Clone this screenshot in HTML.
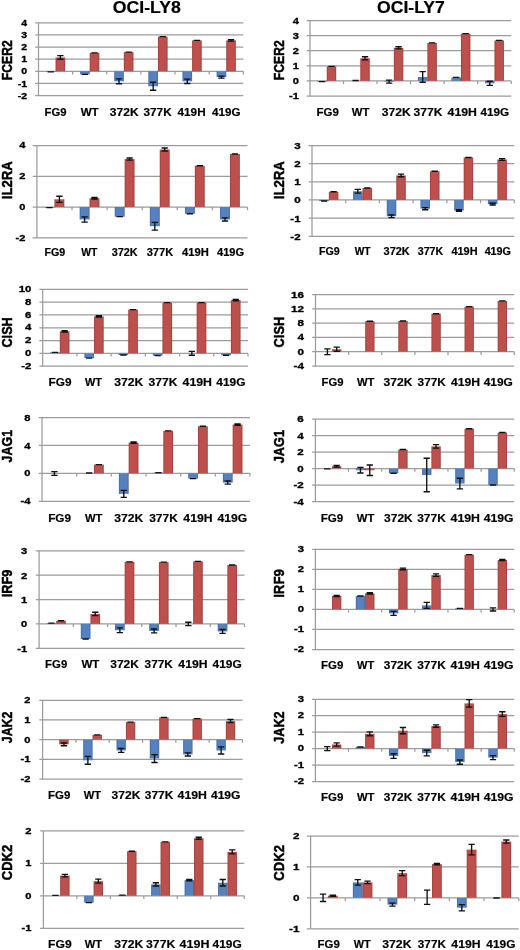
<!DOCTYPE html>
<html lang="en">
<head>
<meta charset="utf-8">
<title>OCI-LY8 / OCI-LY7 gene expression</title>
<style>
html,body{margin:0;padding:0;background:#fff;}
body{width:520px;height:950px;overflow:hidden;}
svg{display:block;filter:blur(0.35px);}
text{font-family:"Liberation Sans", sans-serif;font-weight:bold;fill:#000;stroke:#000;stroke-width:0.2px;stroke-linejoin:round;}
.yl{stroke-width:0.5px;}
.tk{stroke-width:0.32px;}
.g{stroke:#9c9c9c;stroke-width:1.25;fill:none;}
.e{stroke:#111;stroke-width:1.35;fill:none;}
.b{fill:url(#gb);}
.r{fill:url(#gr);}
</style>
</head>
<body>
<svg width="520" height="950" viewBox="0 0 520 950">
<defs>
<linearGradient id="gb" x1="0" x2="1" y1="0" y2="0"><stop offset="0" stop-color="#3f66a3"/><stop offset="0.16" stop-color="#5581bf"/><stop offset="0.84" stop-color="#5581bf"/><stop offset="1" stop-color="#3f66a3"/></linearGradient>
<linearGradient id="gr" x1="0" x2="1" y1="0" y2="0"><stop offset="0" stop-color="#983d39"/><stop offset="0.16" stop-color="#bd504d"/><stop offset="0.84" stop-color="#bd504d"/><stop offset="1" stop-color="#983d39"/></linearGradient>
</defs>
<rect x="0" y="0" width="520" height="950" fill="#fff"/>
<text x="112.8" y="13.15" font-size="15.7" textLength="68" lengthAdjust="spacingAndGlyphs">OCI-LY8</text>
<text x="377.1" y="13.15" font-size="15.7" textLength="67.7" lengthAdjust="spacingAndGlyphs">OCI-LY7</text>
<g>
<path class="g" d="M35.2 22.8H243.3M35.2 34.92H243.3M35.2 47.03H243.3M35.2 59.15H243.3M35.2 71.27H243.3M35.2 83.38H243.3M35.2 95.5H243.3M38.5 22.8V95.5M72.63 71.27V74.47M106.77 71.27V74.47M140.9 71.27V74.47M175.03 71.27V74.47M209.17 71.27V74.47M243.3 71.27V74.47"/>
<rect class="b" x="45.95" y="71.27" width="9.62" height="0.61"/>
<rect class="r" x="55.57" y="57.45" width="9.62" height="13.81"/>
<rect class="b" x="80.08" y="71.27" width="9.62" height="3.03"/>
<rect class="r" x="89.7" y="52.85" width="9.62" height="18.42"/>
<rect class="b" x="114.22" y="71.27" width="9.62" height="10.06"/>
<rect class="r" x="123.83" y="52.12" width="9.62" height="19.14"/>
<rect class="b" x="148.35" y="71.27" width="9.62" height="15.02"/>
<rect class="r" x="157.97" y="36.61" width="9.62" height="34.65"/>
<rect class="b" x="182.48" y="71.27" width="9.62" height="10.06"/>
<rect class="r" x="192.1" y="40.37" width="9.62" height="30.9"/>
<rect class="b" x="216.62" y="71.27" width="9.62" height="5.82"/>
<rect class="r" x="226.23" y="40.37" width="9.62" height="30.9"/>
<path class="e" d="M47.61 71.87H53.91M57.22 55.64H63.52M57.22 59.27H63.52M60.37 55.64V59.27M81.74 74.3H88.04M91.36 52.85H97.66M115.88 78.9H122.18M115.88 83.75H122.18M119.03 78.9V83.75M125.49 52.12H131.79M150.01 82.29H156.31M150.01 90.29H156.31M153.16 82.29V90.29M159.62 36.61H165.92M184.14 79.14H190.44M184.14 83.5H190.44M187.29 79.14V83.5M193.76 40.37H200.06M218.28 76.11H224.58M218.28 78.05H224.58M221.43 76.11V78.05M227.89 39.64H234.19M227.89 41.1H234.19M231.04 39.64V41.1"/>
<text class="tk" x="21.16" y="25.99" font-size="8.9" textLength="5.84" lengthAdjust="spacingAndGlyphs">4</text>
<text class="tk" x="21.16" y="38.1" font-size="8.9" textLength="5.84" lengthAdjust="spacingAndGlyphs">3</text>
<text class="tk" x="21.16" y="50.22" font-size="8.9" textLength="5.84" lengthAdjust="spacingAndGlyphs">2</text>
<text class="tk" x="21.16" y="62.34" font-size="8.9" textLength="5.84" lengthAdjust="spacingAndGlyphs">1</text>
<text class="tk" x="21.16" y="74.45" font-size="8.9" textLength="5.84" lengthAdjust="spacingAndGlyphs">0</text>
<text class="tk" x="17.66" y="86.57" font-size="8.9" textLength="9.34" lengthAdjust="spacingAndGlyphs">-1</text>
<text class="tk" x="17.66" y="98.69" font-size="8.9" textLength="9.34" lengthAdjust="spacingAndGlyphs">-2</text>
<text x="44.62" y="115.8" font-size="11.4" textLength="21.99" lengthAdjust="spacingAndGlyphs">FG9</text>
<text x="80.67" y="115.8" font-size="11.4" textLength="18.04" lengthAdjust="spacingAndGlyphs">WT</text>
<text x="109.81" y="115.8" font-size="11.4" textLength="28.82" lengthAdjust="spacingAndGlyphs">372K</text>
<text x="143.53" y="115.8" font-size="11.4" textLength="28.13" lengthAdjust="spacingAndGlyphs">377K</text>
<text x="177.6" y="115.8" font-size="11.4" textLength="28" lengthAdjust="spacingAndGlyphs">419H</text>
<text x="212" y="115.8" font-size="11.4" textLength="28.43" lengthAdjust="spacingAndGlyphs">419G</text>
<text class="yl" transform="translate(12.2 80.16) rotate(-90)" font-size="15.4" textLength="39.83" lengthAdjust="spacingAndGlyphs">FCER2</text>
</g>
<g>
<path class="g" d="M32.7 145.5H247.5M32.7 176.25H247.5M32.7 207H247.5M32.7 237.75H247.5M36.9 145.5V237.75M72 207V210.2M107.1 207V210.2M142.2 207V210.2M177.3 207V210.2M212.4 207V210.2M247.5 207V210.2"/>
<rect class="b" x="44.56" y="207" width="9.89" height="0.62"/>
<rect class="r" x="54.45" y="199.31" width="9.89" height="7.69"/>
<rect class="b" x="79.66" y="207" width="9.89" height="12.45"/>
<rect class="r" x="89.55" y="198.24" width="9.89" height="8.76"/>
<rect class="b" x="114.76" y="207" width="9.89" height="9.69"/>
<rect class="r" x="124.65" y="159.03" width="9.89" height="47.97"/>
<rect class="b" x="149.86" y="207" width="9.89" height="19.22"/>
<rect class="r" x="159.75" y="149.5" width="9.89" height="57.5"/>
<rect class="b" x="184.96" y="207" width="9.89" height="6.76"/>
<rect class="r" x="194.85" y="165.79" width="9.89" height="41.21"/>
<rect class="b" x="220.06" y="207" width="9.89" height="12.45"/>
<rect class="r" x="229.95" y="153.96" width="9.89" height="53.04"/>
<path class="e" d="M46.36 207.62H52.66M56.24 196.24H62.54M56.24 202.39H62.54M59.39 196.24V202.39M81.46 216.84H87.76M81.46 222.07H87.76M84.61 216.84V222.07M91.34 197.47H97.64M91.34 199H97.64M94.49 197.47V199M116.56 216.69H122.86M126.44 157.95H132.74M126.44 160.11H132.74M129.59 157.95V160.11M151.66 222.38H157.96M151.66 230.06H157.96M154.81 222.38V230.06M161.54 147.96H167.84M161.54 151.03H167.84M164.69 147.96V151.03M186.76 213.76H193.06M196.64 165.79H202.94M221.86 217.92H228.16M221.86 220.99H228.16M225.01 217.92V220.99M231.74 153.96H238.04"/>
<text class="tk" x="19.23" y="148.47" font-size="9.4" textLength="6.17" lengthAdjust="spacingAndGlyphs">4</text>
<text class="tk" x="19.23" y="179.22" font-size="9.4" textLength="6.17" lengthAdjust="spacingAndGlyphs">2</text>
<text class="tk" x="19.23" y="209.97" font-size="9.4" textLength="6.17" lengthAdjust="spacingAndGlyphs">0</text>
<text class="tk" x="15.54" y="240.72" font-size="9.4" textLength="9.86" lengthAdjust="spacingAndGlyphs">-2</text>
<text x="44.52" y="256" font-size="10.8" textLength="20.71" lengthAdjust="spacingAndGlyphs">FG9</text>
<text x="81.28" y="256" font-size="10.8" textLength="16.16" lengthAdjust="spacingAndGlyphs">WT</text>
<text x="111.68" y="256" font-size="10.8" textLength="26.01" lengthAdjust="spacingAndGlyphs">372K</text>
<text x="146.67" y="256" font-size="10.8" textLength="26.63" lengthAdjust="spacingAndGlyphs">377K</text>
<text x="182" y="256" font-size="10.8" textLength="26.72" lengthAdjust="spacingAndGlyphs">419H</text>
<text x="217" y="256" font-size="10.8" textLength="27.17" lengthAdjust="spacingAndGlyphs">419G</text>
<text class="yl" transform="translate(12.2 199.19) rotate(-90)" font-size="15.4" textLength="38" lengthAdjust="spacingAndGlyphs">IL2RA</text>
</g>
<g>
<path class="g" d="M39.4 289.4H248M39.4 302.18H248M39.4 314.97H248M39.4 327.75H248M39.4 340.53H248M39.4 353.32H248M39.4 366.1H248M42.7 289.4V366.1M76.92 353.32V356.52M111.13 353.32V356.52M145.35 353.32V356.52M179.57 353.32V356.52M213.78 353.32V356.52M248 353.32V356.52"/>
<rect class="b" x="50.17" y="352.36" width="9.64" height="0.96"/>
<rect class="r" x="59.81" y="331.33" width="9.64" height="21.99"/>
<rect class="b" x="84.39" y="353.32" width="9.64" height="4.73"/>
<rect class="r" x="94.03" y="316.37" width="9.64" height="36.94"/>
<rect class="b" x="118.6" y="353.32" width="9.64" height="1.73"/>
<rect class="r" x="128.24" y="309.6" width="9.64" height="43.72"/>
<rect class="b" x="152.82" y="353.32" width="9.64" height="2.24"/>
<rect class="r" x="162.46" y="302.63" width="9.64" height="50.69"/>
<rect class="r" x="196.68" y="302.63" width="9.64" height="50.69"/>
<rect class="b" x="221.25" y="353.32" width="9.64" height="1.92"/>
<rect class="r" x="230.89" y="300.14" width="9.64" height="53.18"/>
<path class="e" d="M51.84 352.36H58.14M61.48 330.69H67.78M61.48 331.97H67.78M64.63 330.69V331.97M86.06 358.05H92.36M95.69 315.73H101.99M95.69 317.01H101.99M98.84 315.73V317.01M120.27 355.04H126.57M129.91 309.6H136.21M154.49 355.55H160.79M164.13 302.63H170.43M188.71 351.4H195.01M188.71 355.23H195.01M191.86 351.4V355.23M198.34 302.63H204.64M222.92 355.23H229.22M232.56 299.5H238.86M232.56 300.78H238.86M235.71 299.5V300.78"/>
<text class="tk" x="18.67" y="291.97" font-size="9.7" textLength="12.73" lengthAdjust="spacingAndGlyphs">10</text>
<text class="tk" x="25.04" y="304.76" font-size="9.7" textLength="6.36" lengthAdjust="spacingAndGlyphs">8</text>
<text class="tk" x="25.04" y="317.54" font-size="9.7" textLength="6.36" lengthAdjust="spacingAndGlyphs">6</text>
<text class="tk" x="25.04" y="330.32" font-size="9.7" textLength="6.36" lengthAdjust="spacingAndGlyphs">4</text>
<text class="tk" x="25.04" y="343.11" font-size="9.7" textLength="6.36" lengthAdjust="spacingAndGlyphs">2</text>
<text class="tk" x="25.04" y="355.89" font-size="9.7" textLength="6.36" lengthAdjust="spacingAndGlyphs">0</text>
<text class="tk" x="21.22" y="368.67" font-size="9.7" textLength="10.18" lengthAdjust="spacingAndGlyphs">-2</text>
<text x="48.55" y="385.8" font-size="11.8" textLength="22.93" lengthAdjust="spacingAndGlyphs">FG9</text>
<text x="85" y="385.8" font-size="11.8" textLength="17" lengthAdjust="spacingAndGlyphs">WT</text>
<text x="114.22" y="385.8" font-size="11.8" textLength="29.05" lengthAdjust="spacingAndGlyphs">372K</text>
<text x="148.5" y="385.8" font-size="11.8" textLength="28.85" lengthAdjust="spacingAndGlyphs">377K</text>
<text x="182.58" y="385.8" font-size="11.8" textLength="29.38" lengthAdjust="spacingAndGlyphs">419H</text>
<text x="216.37" y="385.8" font-size="11.8" textLength="29.09" lengthAdjust="spacingAndGlyphs">419G</text>
<text class="yl" transform="translate(12.2 347.51) rotate(-90)" font-size="15.4" textLength="30.22" lengthAdjust="spacingAndGlyphs">CISH</text>
</g>
<g>
<path class="g" d="M38.7 417.5H250M38.7 445.42H250M38.7 473.33H250M38.7 501.25H250M42 417.5V501.25M76.67 473.33V476.53M111.33 473.33V476.53M146 473.33V476.53M180.67 473.33V476.53M215.33 473.33V476.53M250 473.33V476.53"/>
<rect class="r" x="94" y="464.61" width="9.77" height="8.72"/>
<rect class="b" x="118.9" y="473.33" width="9.77" height="20.52"/>
<rect class="r" x="128.67" y="442.56" width="9.77" height="30.78"/>
<rect class="b" x="153.57" y="472.64" width="9.77" height="0.7"/>
<rect class="r" x="163.33" y="430.83" width="9.77" height="42.5"/>
<rect class="b" x="188.23" y="473.33" width="9.77" height="5.23"/>
<rect class="r" x="198" y="426.29" width="9.77" height="47.04"/>
<rect class="b" x="222.9" y="473.33" width="9.77" height="9.21"/>
<rect class="r" x="232.67" y="424.55" width="9.77" height="48.78"/>
<path class="e" d="M51.3 471.66H57.6M51.3 475.43H57.6M54.45 471.66V475.43M85.97 472.98H92.27M95.73 464.61H102.03M120.63 490.36H126.93M120.63 497.34H126.93M123.78 490.36V497.34M130.4 441.86H136.7M130.4 443.25H136.7M133.55 441.86V443.25M155.3 472.64H161.6M165.07 430.83H171.37M189.97 478.57H196.27M199.73 426.29H206.03M224.63 481.01H230.93M224.63 484.08H230.93M227.78 481.01V484.08M234.4 423.85H240.7M234.4 425.25H240.7M237.55 423.85V425.25"/>
<text class="tk" x="24.27" y="420.6" font-size="9.5" textLength="6.23" lengthAdjust="spacingAndGlyphs">8</text>
<text class="tk" x="24.27" y="448.52" font-size="9.5" textLength="6.23" lengthAdjust="spacingAndGlyphs">4</text>
<text class="tk" x="24.27" y="476.43" font-size="9.5" textLength="6.23" lengthAdjust="spacingAndGlyphs">0</text>
<text class="tk" x="20.53" y="504.35" font-size="9.5" textLength="9.97" lengthAdjust="spacingAndGlyphs">-4</text>
<text x="48.13" y="521.5" font-size="11.8" textLength="22.91" lengthAdjust="spacingAndGlyphs">FG9</text>
<text x="85" y="521.5" font-size="11.8" textLength="17.47" lengthAdjust="spacingAndGlyphs">WT</text>
<text x="114.22" y="521.5" font-size="11.8" textLength="29.05" lengthAdjust="spacingAndGlyphs">372K</text>
<text x="149.23" y="521.5" font-size="11.8" textLength="28.61" lengthAdjust="spacingAndGlyphs">377K</text>
<text x="183.37" y="521.5" font-size="11.8" textLength="29.14" lengthAdjust="spacingAndGlyphs">419H</text>
<text x="217.59" y="521.5" font-size="11.8" textLength="29.71" lengthAdjust="spacingAndGlyphs">419G</text>
<text class="yl" transform="translate(12.2 462.5) rotate(-90)" font-size="15.4" textLength="32.59" lengthAdjust="spacingAndGlyphs">JAG1</text>
</g>
<g>
<path class="g" d="M35.8 550.9H244.5M35.8 575.24H244.5M35.8 599.58H244.5M35.8 623.91H244.5M35.8 648.25H244.5M39.1 550.9V648.25M73.33 623.91V627.11M107.57 623.91V627.11M141.8 623.91V627.11M176.03 623.91V627.11M210.27 623.91V627.11M244.5 623.91V627.11"/>
<rect class="b" x="46.57" y="623.18" width="9.64" height="0.73"/>
<rect class="r" x="56.22" y="620.75" width="9.64" height="3.16"/>
<rect class="b" x="80.81" y="623.91" width="9.64" height="15.09"/>
<rect class="r" x="90.45" y="613.93" width="9.64" height="9.98"/>
<rect class="b" x="115.04" y="623.91" width="9.64" height="6.33"/>
<rect class="r" x="124.68" y="561.85" width="9.64" height="62.06"/>
<rect class="b" x="149.27" y="623.91" width="9.64" height="7.06"/>
<rect class="r" x="158.92" y="562.1" width="9.64" height="61.82"/>
<rect class="r" x="193.15" y="561.37" width="9.64" height="62.55"/>
<rect class="b" x="217.74" y="623.91" width="9.64" height="7.54"/>
<rect class="r" x="227.38" y="565.02" width="9.64" height="58.9"/>
<path class="e" d="M48.25 623.18H54.55M57.89 620.75H64.19M82.48 639H88.78M92.12 612.23H98.42M92.12 615.64H98.42M95.27 612.23V615.64M116.71 627.81H123.01M116.71 632.67H123.01M119.86 627.81V632.67M126.35 561.85H132.65M150.95 629.02H157.25M150.95 632.92H157.25M154.1 629.02V632.92M160.59 562.1H166.89M185.18 622.21H191.48M185.18 625.62H191.48M188.33 622.21V625.62M194.82 561.37H201.12M219.41 629.51H225.71M219.41 633.4H225.71M222.56 629.51V633.4M229.05 565.02H235.35"/>
<text class="tk" x="20.97" y="554.3" font-size="9.5" textLength="6.23" lengthAdjust="spacingAndGlyphs">3</text>
<text class="tk" x="20.97" y="578.64" font-size="9.5" textLength="6.23" lengthAdjust="spacingAndGlyphs">2</text>
<text class="tk" x="20.97" y="602.98" font-size="9.5" textLength="6.23" lengthAdjust="spacingAndGlyphs">1</text>
<text class="tk" x="20.97" y="627.31" font-size="9.5" textLength="6.23" lengthAdjust="spacingAndGlyphs">0</text>
<text class="tk" x="17.23" y="651.65" font-size="9.5" textLength="9.97" lengthAdjust="spacingAndGlyphs">-1</text>
<text x="45.11" y="667.8" font-size="11.6" textLength="22.15" lengthAdjust="spacingAndGlyphs">FG9</text>
<text x="81.45" y="667.8" font-size="11.6" textLength="18.02" lengthAdjust="spacingAndGlyphs">WT</text>
<text x="110.22" y="667.8" font-size="11.6" textLength="28.78" lengthAdjust="spacingAndGlyphs">372K</text>
<text x="144.59" y="667.8" font-size="11.6" textLength="28.31" lengthAdjust="spacingAndGlyphs">377K</text>
<text x="178.36" y="667.8" font-size="11.6" textLength="29.13" lengthAdjust="spacingAndGlyphs">419H</text>
<text x="212.59" y="667.8" font-size="11.6" textLength="29.19" lengthAdjust="spacingAndGlyphs">419G</text>
<text class="yl" transform="translate(12.2 597.37) rotate(-90)" font-size="15.4" textLength="27.81" lengthAdjust="spacingAndGlyphs">IRF9</text>
</g>
<g>
<path class="g" d="M39.3 700.25H242.5M39.3 719.94H242.5M39.3 739.62H242.5M39.3 759.31H242.5M39.3 779H242.5M42.6 700.25V779M75.92 739.62V742.83M109.23 739.62V742.83M142.55 739.62V742.83M175.87 739.62V742.83M209.18 739.62V742.83M242.5 739.62V742.83"/>
<rect class="r" x="59.26" y="739.62" width="9.38" height="4.73"/>
<rect class="b" x="83.19" y="739.62" width="9.38" height="20.67"/>
<rect class="r" x="92.58" y="734.9" width="9.38" height="4.73"/>
<rect class="b" x="116.51" y="739.62" width="9.38" height="10.83"/>
<rect class="r" x="125.89" y="722.1" width="9.38" height="17.52"/>
<rect class="b" x="149.82" y="739.62" width="9.38" height="18.9"/>
<rect class="r" x="159.21" y="717.38" width="9.38" height="22.25"/>
<rect class="b" x="183.14" y="739.62" width="9.38" height="14.77"/>
<rect class="r" x="192.53" y="718.56" width="9.38" height="21.07"/>
<rect class="b" x="216.46" y="739.62" width="9.38" height="10.83"/>
<rect class="r" x="225.84" y="721.12" width="9.38" height="18.51"/>
<path class="e" d="M60.8 742.97H67.1M60.8 745.73H67.1M63.95 742.97V745.73M84.73 756.36H91.03M84.73 764.23H91.03M87.88 756.36V764.23M94.12 734.9H100.42M118.05 748.48H124.35M118.05 752.42H124.35M121.2 748.48V752.42M127.43 722.1H133.73M151.37 754.59H157.67M151.37 762.46H157.67M154.52 754.59V762.46M160.75 717.38H167.05M184.68 752.82H190.98M184.68 755.97H190.98M187.83 752.82V755.97M194.07 718.56H200.37M218 746.91H224.3M218 754H224.3M221.15 746.91V754M227.38 719.54H233.68M227.38 722.69H233.68M230.53 719.54V722.69"/>
<text class="tk" x="24.37" y="703.25" font-size="9.5" textLength="6.23" lengthAdjust="spacingAndGlyphs">2</text>
<text class="tk" x="24.37" y="722.94" font-size="9.5" textLength="6.23" lengthAdjust="spacingAndGlyphs">1</text>
<text class="tk" x="24.37" y="742.63" font-size="9.5" textLength="6.23" lengthAdjust="spacingAndGlyphs">0</text>
<text class="tk" x="20.63" y="762.31" font-size="9.5" textLength="9.97" lengthAdjust="spacingAndGlyphs">-1</text>
<text class="tk" x="20.63" y="782" font-size="9.5" textLength="9.97" lengthAdjust="spacingAndGlyphs">-2</text>
<text x="48.05" y="799" font-size="11.6" textLength="22.26" lengthAdjust="spacingAndGlyphs">FG9</text>
<text x="83.75" y="799" font-size="11.6" textLength="17.33" lengthAdjust="spacingAndGlyphs">WT</text>
<text x="111.5" y="799" font-size="11.6" textLength="28.88" lengthAdjust="spacingAndGlyphs">372K</text>
<text x="144.82" y="799" font-size="11.6" textLength="28.41" lengthAdjust="spacingAndGlyphs">377K</text>
<text x="177.58" y="799" font-size="11.6" textLength="29.32" lengthAdjust="spacingAndGlyphs">419H</text>
<text x="210.93" y="799" font-size="11.6" textLength="29.6" lengthAdjust="spacingAndGlyphs">419G</text>
<text class="yl" transform="translate(12.2 743.23) rotate(-90)" font-size="15.4" textLength="31.62" lengthAdjust="spacingAndGlyphs">JAK2</text>
</g>
<g>
<path class="g" d="M40.1 830.75H244.25M40.1 863.25H244.25M40.1 895.75H244.25M40.1 928.25H244.25M43.4 830.75V928.25M76.88 895.75V898.95M110.35 895.75V898.95M143.83 895.75V898.95M177.3 895.75V898.95M210.78 895.75V898.95M244.25 895.75V898.95"/>
<rect class="r" x="60.14" y="875.6" width="9.43" height="20.15"/>
<rect class="b" x="84.18" y="895.75" width="9.43" height="6.83"/>
<rect class="r" x="93.61" y="881.12" width="9.43" height="14.62"/>
<rect class="b" x="117.66" y="895.1" width="9.43" height="0.65"/>
<rect class="r" x="127.09" y="851.23" width="9.43" height="44.52"/>
<rect class="b" x="151.13" y="884.38" width="9.43" height="11.38"/>
<rect class="r" x="160.56" y="841.8" width="9.43" height="53.95"/>
<rect class="b" x="184.61" y="880.15" width="9.43" height="15.6"/>
<rect class="r" x="194.04" y="838.23" width="9.43" height="57.52"/>
<rect class="b" x="218.08" y="882.75" width="9.43" height="13"/>
<rect class="r" x="227.51" y="851.88" width="9.43" height="43.88"/>
<path class="e" d="M52.27 895.42H58.57M61.7 874.3H68M61.7 876.9H68M64.85 874.3V876.9M85.75 902.58H92.05M95.18 879.17H101.48M95.18 883.08H101.48M98.33 879.17V883.08M119.22 895.1H125.52M128.65 851.23H134.95M152.7 882.75H159M152.7 886H159M155.85 882.75V886M162.13 841.8H168.43M186.17 879.5H192.47M186.17 880.8H192.47M189.32 879.5V880.8M195.6 837.25H201.9M195.6 839.2H201.9M198.75 837.25V839.2M219.65 879.5H225.95M219.65 886H225.95M222.8 879.5V886M229.08 849.92H235.38M229.08 853.83H235.38M232.23 849.92V853.83"/>
<text class="tk" x="25.17" y="833.75" font-size="9.5" textLength="6.23" lengthAdjust="spacingAndGlyphs">2</text>
<text class="tk" x="25.17" y="866.25" font-size="9.5" textLength="6.23" lengthAdjust="spacingAndGlyphs">1</text>
<text class="tk" x="25.17" y="898.75" font-size="9.5" textLength="6.23" lengthAdjust="spacingAndGlyphs">0</text>
<text class="tk" x="21.43" y="931.25" font-size="9.5" textLength="9.97" lengthAdjust="spacingAndGlyphs">-1</text>
<text x="48.11" y="948.3" font-size="11.8" textLength="23.59" lengthAdjust="spacingAndGlyphs">FG9</text>
<text x="84.66" y="948.3" font-size="11.8" textLength="17.34" lengthAdjust="spacingAndGlyphs">WT</text>
<text x="114.22" y="948.3" font-size="11.8" textLength="29.05" lengthAdjust="spacingAndGlyphs">372K</text>
<text x="146.02" y="948.3" font-size="11.8" textLength="29.29" lengthAdjust="spacingAndGlyphs">377K</text>
<text x="179.58" y="948.3" font-size="11.8" textLength="29.84" lengthAdjust="spacingAndGlyphs">419H</text>
<text x="212.59" y="948.3" font-size="11.8" textLength="29.21" lengthAdjust="spacingAndGlyphs">419G</text>
<text class="yl" transform="translate(12.2 880.14) rotate(-90)" font-size="15.4" textLength="35.26" lengthAdjust="spacingAndGlyphs">CDK2</text>
</g>
<g>
<path class="g" d="M306.7 20.5H511.25M306.7 35.6H511.25M306.7 50.7H511.25M306.7 65.8H511.25M306.7 80.9H511.25M306.7 96H511.25M310 20.5V96M343.54 80.9V84.1M377.08 80.9V84.1M410.62 80.9V84.1M444.17 80.9V84.1M477.71 80.9V84.1M511.25 80.9V84.1"/>
<rect class="b" x="317.32" y="80.9" width="9.45" height="0.75"/>
<rect class="r" x="326.77" y="66.4" width="9.45" height="14.5"/>
<rect class="r" x="360.31" y="58.25" width="9.45" height="22.65"/>
<rect class="b" x="384.41" y="80.9" width="9.45" height="0.75"/>
<rect class="r" x="393.85" y="47.83" width="9.45" height="33.07"/>
<rect class="b" x="417.95" y="76.97" width="9.45" height="3.93"/>
<rect class="r" x="427.4" y="42.85" width="9.45" height="38.05"/>
<rect class="b" x="451.49" y="77.43" width="9.45" height="3.47"/>
<rect class="r" x="460.94" y="33.64" width="9.45" height="47.26"/>
<rect class="b" x="485.03" y="80.9" width="9.45" height="2.42"/>
<rect class="r" x="494.48" y="40.43" width="9.45" height="40.47"/>
<path class="e" d="M318.9 81.66H325.2M328.35 66.4H334.65M352.44 80.45H358.74M361.89 56.74H368.19M361.89 59.76H368.19M365.04 56.74V59.76M385.98 80.15H392.28M385.98 83.17H392.28M389.13 80.15V83.17M395.43 46.77H401.73M395.43 48.89H401.73M398.58 46.77V48.89M419.52 71.69H425.82M419.52 82.26H425.82M422.67 71.69V82.26M428.97 42.85H435.27M453.06 77.43H459.36M462.51 33.64H468.81M486.6 81.2H492.9M486.6 85.43H492.9M489.75 81.2V85.43M496.05 40.43H502.35"/>
<text class="tk" x="292.73" y="23.87" font-size="9.4" textLength="6.17" lengthAdjust="spacingAndGlyphs">4</text>
<text class="tk" x="292.73" y="38.97" font-size="9.4" textLength="6.17" lengthAdjust="spacingAndGlyphs">3</text>
<text class="tk" x="292.73" y="54.07" font-size="9.4" textLength="6.17" lengthAdjust="spacingAndGlyphs">2</text>
<text class="tk" x="292.73" y="69.17" font-size="9.4" textLength="6.17" lengthAdjust="spacingAndGlyphs">1</text>
<text class="tk" x="292.73" y="84.27" font-size="9.4" textLength="6.17" lengthAdjust="spacingAndGlyphs">0</text>
<text class="tk" x="289.04" y="99.37" font-size="9.4" textLength="9.86" lengthAdjust="spacingAndGlyphs">-1</text>
<text x="316.61" y="115.8" font-size="11.6" textLength="22.33" lengthAdjust="spacingAndGlyphs">FG9</text>
<text x="351.75" y="115.8" font-size="11.6" textLength="17.54" lengthAdjust="spacingAndGlyphs">WT</text>
<text x="381.82" y="115.8" font-size="11.6" textLength="28.99" lengthAdjust="spacingAndGlyphs">372K</text>
<text x="413.5" y="115.8" font-size="11.6" textLength="28.88" lengthAdjust="spacingAndGlyphs">377K</text>
<text x="447.58" y="115.8" font-size="11.6" textLength="29.32" lengthAdjust="spacingAndGlyphs">419H</text>
<text x="480.59" y="115.8" font-size="11.6" textLength="28.67" lengthAdjust="spacingAndGlyphs">419G</text>
<text class="yl" transform="translate(284.1 80.16) rotate(-90)" font-size="15.4" textLength="39.83" lengthAdjust="spacingAndGlyphs">FCER2</text>
</g>
<g>
<path class="g" d="M308.7 145.5H514.25M308.7 163.65H514.25M308.7 181.8H514.25M308.7 199.95H514.25M308.7 218.1H514.25M308.7 236.25H514.25M312 145.5V236.25M345.71 199.95V203.15M379.42 199.95V203.15M413.12 199.95V203.15M446.83 199.95V203.15M480.54 199.95V203.15M514.25 199.95V203.15"/>
<rect class="b" x="319.36" y="199.95" width="9.5" height="1.09"/>
<rect class="r" x="328.85" y="191.78" width="9.5" height="8.17"/>
<rect class="b" x="353.07" y="191.24" width="9.5" height="8.71"/>
<rect class="r" x="362.56" y="187.97" width="9.5" height="11.98"/>
<rect class="b" x="386.78" y="199.95" width="9.5" height="16.34"/>
<rect class="r" x="396.27" y="175.45" width="9.5" height="24.5"/>
<rect class="b" x="420.48" y="199.95" width="9.5" height="8.71"/>
<rect class="r" x="429.98" y="171.27" width="9.5" height="28.68"/>
<rect class="b" x="454.19" y="199.95" width="9.5" height="10.53"/>
<rect class="r" x="463.69" y="157.48" width="9.5" height="42.47"/>
<rect class="b" x="487.9" y="199.95" width="9.5" height="4.17"/>
<rect class="r" x="497.4" y="159.48" width="9.5" height="40.47"/>
<path class="e" d="M320.96 201.04H327.26M330.45 191.78H336.75M354.66 189.42H360.96M354.66 193.05H360.96M357.81 189.42V193.05M364.16 187.97H370.46M388.37 215.01H394.67M388.37 217.56H394.67M391.52 215.01V217.56M397.87 174.18H404.17M397.87 176.72H404.17M401.02 174.18V176.72M422.08 207.57H428.38M422.08 209.75H428.38M425.23 207.57V209.75M431.58 171.27H437.88M455.79 209.75H462.09M455.79 211.2H462.09M458.94 209.75V211.2M465.29 157.48H471.59M489.5 203.22H495.8M489.5 205.03H495.8M492.65 203.22V205.03M498.99 158.57H505.29M498.99 160.38H505.29M502.14 158.57V160.38"/>
<text class="tk" x="294.17" y="149.01" font-size="9.8" textLength="6.43" lengthAdjust="spacingAndGlyphs">3</text>
<text class="tk" x="294.17" y="167.16" font-size="9.8" textLength="6.43" lengthAdjust="spacingAndGlyphs">2</text>
<text class="tk" x="294.17" y="185.31" font-size="9.8" textLength="6.43" lengthAdjust="spacingAndGlyphs">1</text>
<text class="tk" x="294.17" y="203.46" font-size="9.8" textLength="6.43" lengthAdjust="spacingAndGlyphs">0</text>
<text class="tk" x="290.32" y="221.61" font-size="9.8" textLength="10.28" lengthAdjust="spacingAndGlyphs">-1</text>
<text class="tk" x="290.32" y="239.76" font-size="9.8" textLength="10.28" lengthAdjust="spacingAndGlyphs">-2</text>
<text x="319" y="254.5" font-size="10.8" textLength="20.79" lengthAdjust="spacingAndGlyphs">FG9</text>
<text x="354.71" y="254.5" font-size="10.8" textLength="15.76" lengthAdjust="spacingAndGlyphs">WT</text>
<text x="383.57" y="254.5" font-size="10.8" textLength="26.13" lengthAdjust="spacingAndGlyphs">372K</text>
<text x="417.73" y="254.5" font-size="10.8" textLength="25.45" lengthAdjust="spacingAndGlyphs">377K</text>
<text x="451.43" y="254.5" font-size="10.8" textLength="26.15" lengthAdjust="spacingAndGlyphs">419H</text>
<text x="484.65" y="254.5" font-size="10.8" textLength="26.31" lengthAdjust="spacingAndGlyphs">419G</text>
<text class="yl" transform="translate(284.1 199.19) rotate(-90)" font-size="15.4" textLength="38.07" lengthAdjust="spacingAndGlyphs">IL2RA</text>
</g>
<g>
<path class="g" d="M312.2 294.5H514.25M312.2 308.8H514.25M312.2 323.1H514.25M312.2 337.4H514.25M312.2 351.7H514.25M312.2 366H514.25M315.5 294.5V366M348.62 351.7V354.9M381.75 351.7V354.9M414.88 351.7V354.9M448 351.7V354.9M481.12 351.7V354.9M514.25 351.7V354.9"/>
<rect class="r" x="332.06" y="349.2" width="9.33" height="2.5"/>
<rect class="r" x="365.19" y="321.21" width="9.33" height="30.49"/>
<rect class="r" x="398.31" y="320.95" width="9.33" height="30.75"/>
<rect class="r" x="431.44" y="313.7" width="9.33" height="38"/>
<rect class="r" x="464.56" y="306.69" width="9.33" height="45.01"/>
<rect class="r" x="497.69" y="300.94" width="9.33" height="50.76"/>
<path class="e" d="M324.25 348.84H330.55M324.25 354.56H330.55M327.4 348.84V354.56M333.58 347.05H339.88M333.58 351.34H339.88M336.73 347.05V351.34M366.7 321.21H373M399.83 320.95H406.13M432.95 313.7H439.25M466.08 306.69H472.38M499.2 300.94H505.5"/>
<text class="tk" x="290.91" y="297.59" font-size="9.9" textLength="12.99" lengthAdjust="spacingAndGlyphs">16</text>
<text class="tk" x="290.91" y="311.89" font-size="9.9" textLength="12.99" lengthAdjust="spacingAndGlyphs">12</text>
<text class="tk" x="297.4" y="326.19" font-size="9.9" textLength="6.5" lengthAdjust="spacingAndGlyphs">8</text>
<text class="tk" x="297.4" y="340.49" font-size="9.9" textLength="6.5" lengthAdjust="spacingAndGlyphs">4</text>
<text class="tk" x="297.4" y="354.79" font-size="9.9" textLength="6.5" lengthAdjust="spacingAndGlyphs">0</text>
<text class="tk" x="293.51" y="369.09" font-size="9.9" textLength="10.39" lengthAdjust="spacingAndGlyphs">-4</text>
<text x="321.62" y="385.6" font-size="11.6" textLength="21.97" lengthAdjust="spacingAndGlyphs">FG9</text>
<text x="357" y="385.6" font-size="11.6" textLength="17.48" lengthAdjust="spacingAndGlyphs">WT</text>
<text x="383.5" y="385.6" font-size="11.6" textLength="28.88" lengthAdjust="spacingAndGlyphs">372K</text>
<text x="417.59" y="385.6" font-size="11.6" textLength="28.31" lengthAdjust="spacingAndGlyphs">377K</text>
<text x="450.92" y="385.6" font-size="11.6" textLength="29.04" lengthAdjust="spacingAndGlyphs">419H</text>
<text x="483.7" y="385.6" font-size="11.6" textLength="29.19" lengthAdjust="spacingAndGlyphs">419G</text>
<text class="yl" transform="translate(284.1 347.42) rotate(-90)" font-size="15.4" textLength="30.62" lengthAdjust="spacingAndGlyphs">CISH</text>
</g>
<g>
<path class="g" d="M312.1 419H514.25M312.1 435.5H514.25M312.1 452H514.25M312.1 468.5H514.25M312.1 485H514.25M312.1 501.5H514.25M315.4 419V501.5M348.54 468.5V471.7M381.68 468.5V471.7M414.82 468.5V471.7M447.97 468.5V471.7M481.11 468.5V471.7M514.25 468.5V471.7"/>
<rect class="r" x="331.97" y="466.27" width="9.34" height="2.23"/>
<rect class="b" x="355.78" y="468.5" width="9.34" height="1.73"/>
<rect class="r" x="365.11" y="468.5" width="9.34" height="1.73"/>
<rect class="b" x="388.92" y="468.5" width="9.34" height="4.79"/>
<rect class="r" x="398.25" y="449.52" width="9.34" height="18.98"/>
<rect class="b" x="422.06" y="468.5" width="9.34" height="6.52"/>
<rect class="r" x="431.4" y="446.39" width="9.34" height="22.11"/>
<rect class="b" x="455.2" y="468.5" width="9.34" height="15.01"/>
<rect class="r" x="464.54" y="428.74" width="9.34" height="39.76"/>
<rect class="b" x="488.34" y="468.5" width="9.34" height="16.5"/>
<rect class="r" x="497.68" y="432.53" width="9.34" height="35.97"/>
<path class="e" d="M324.15 468.91H330.45M333.49 465.45H339.79M333.49 467.1H339.79M336.64 465.45V467.1M357.29 467.51H363.59M357.29 472.95H363.59M360.44 467.51V472.95M366.63 464.95H372.93M366.63 475.51H372.93M369.78 464.95V475.51M390.44 473.29H396.74M399.77 449.52H406.07M423.58 458.27H429.88M423.58 491.76H429.88M426.73 458.27V491.76M432.91 444.66H439.21M432.91 448.12H439.21M436.06 444.66V448.12M456.72 478.24H463.02M456.72 488.8H463.02M459.87 478.24V488.8M466.06 428.74H472.36M489.86 485H496.16M499.2 432.53H505.5"/>
<text class="tk" x="297.37" y="422.01" font-size="9.8" textLength="6.43" lengthAdjust="spacingAndGlyphs">6</text>
<text class="tk" x="297.37" y="438.51" font-size="9.8" textLength="6.43" lengthAdjust="spacingAndGlyphs">4</text>
<text class="tk" x="297.37" y="455.01" font-size="9.8" textLength="6.43" lengthAdjust="spacingAndGlyphs">2</text>
<text class="tk" x="297.37" y="471.51" font-size="9.8" textLength="6.43" lengthAdjust="spacingAndGlyphs">0</text>
<text class="tk" x="293.52" y="488.01" font-size="9.8" textLength="10.28" lengthAdjust="spacingAndGlyphs">-2</text>
<text class="tk" x="293.52" y="504.51" font-size="9.8" textLength="10.28" lengthAdjust="spacingAndGlyphs">-4</text>
<text x="320.73" y="521.5" font-size="11.8" textLength="22.58" lengthAdjust="spacingAndGlyphs">FG9</text>
<text x="356.75" y="521.5" font-size="11.8" textLength="17.54" lengthAdjust="spacingAndGlyphs">WT</text>
<text x="384.02" y="521.5" font-size="11.8" textLength="28.73" lengthAdjust="spacingAndGlyphs">372K</text>
<text x="417.23" y="521.5" font-size="11.8" textLength="28.61" lengthAdjust="spacingAndGlyphs">377K</text>
<text x="450.58" y="521.5" font-size="11.8" textLength="29.38" lengthAdjust="spacingAndGlyphs">419H</text>
<text x="483.7" y="521.5" font-size="11.8" textLength="29.84" lengthAdjust="spacingAndGlyphs">419G</text>
<text class="yl" transform="translate(284.1 463.2) rotate(-90)" font-size="15.4" textLength="33.2" lengthAdjust="spacingAndGlyphs">JAG1</text>
</g>
<g>
<path class="g" d="M312.1 549.25H514.25M312.1 569.3H514.25M312.1 589.35H514.25M312.1 609.4H514.25M312.1 629.45H514.25M312.1 649.5H514.25M315.4 549.25V649.5M348.54 609.4V612.6M381.68 609.4V612.6M414.82 609.4V612.6M447.97 609.4V612.6M481.11 609.4V612.6M514.25 609.4V612.6"/>
<rect class="r" x="331.97" y="595.97" width="9.34" height="13.43"/>
<rect class="b" x="355.78" y="595.97" width="9.34" height="13.43"/>
<rect class="r" x="365.11" y="593.36" width="9.34" height="16.04"/>
<rect class="b" x="388.92" y="609.4" width="9.34" height="4.01"/>
<rect class="r" x="398.25" y="568.9" width="9.34" height="40.5"/>
<rect class="b" x="422.06" y="605.39" width="9.34" height="4.01"/>
<rect class="r" x="431.4" y="575.11" width="9.34" height="34.29"/>
<rect class="b" x="455.2" y="608.4" width="9.34" height="1"/>
<rect class="r" x="464.54" y="554.66" width="9.34" height="54.74"/>
<rect class="r" x="497.68" y="560.08" width="9.34" height="49.32"/>
<path class="e" d="M333.49 595.37H339.79M333.49 596.57H339.79M336.64 595.37V596.57M357.29 595.97H363.59M366.63 592.76H372.93M366.63 593.96H372.93M369.78 592.76V593.96M390.44 611.4H396.74M390.44 615.41H396.74M393.59 611.4V615.41M399.77 568.1H406.07M399.77 569.7H406.07M402.92 568.1V569.7M423.58 602.38H429.88M423.58 608.4H429.88M426.73 602.38V608.4M432.91 573.91H439.21M432.91 576.32H439.21M436.06 573.91V576.32M456.72 608.4H463.02M466.06 554.66H472.36M489.86 607.8H496.16M489.86 611H496.16M493.01 607.8V611M499.2 559.48H505.5M499.2 560.68H505.5M502.35 559.48V560.68"/>
<text class="tk" x="297.7" y="551.89" font-size="9.6" textLength="6.3" lengthAdjust="spacingAndGlyphs">3</text>
<text class="tk" x="297.7" y="571.94" font-size="9.6" textLength="6.3" lengthAdjust="spacingAndGlyphs">2</text>
<text class="tk" x="297.7" y="591.99" font-size="9.6" textLength="6.3" lengthAdjust="spacingAndGlyphs">1</text>
<text class="tk" x="297.7" y="612.04" font-size="9.6" textLength="6.3" lengthAdjust="spacingAndGlyphs">0</text>
<text class="tk" x="293.93" y="632.09" font-size="9.6" textLength="10.07" lengthAdjust="spacingAndGlyphs">-1</text>
<text class="tk" x="293.93" y="652.14" font-size="9.6" textLength="10.07" lengthAdjust="spacingAndGlyphs">-2</text>
<text x="320.96" y="669" font-size="11.8" textLength="22.36" lengthAdjust="spacingAndGlyphs">FG9</text>
<text x="357" y="669" font-size="11.8" textLength="17.11" lengthAdjust="spacingAndGlyphs">WT</text>
<text x="383.85" y="669" font-size="11.8" textLength="28.48" lengthAdjust="spacingAndGlyphs">372K</text>
<text x="417.23" y="669" font-size="11.8" textLength="28.61" lengthAdjust="spacingAndGlyphs">377K</text>
<text x="450.58" y="669" font-size="11.8" textLength="29.38" lengthAdjust="spacingAndGlyphs">419H</text>
<text x="483.7" y="669" font-size="11.8" textLength="29.84" lengthAdjust="spacingAndGlyphs">419G</text>
<text class="yl" transform="translate(284.1 597.86) rotate(-90)" font-size="15.4" textLength="28.75" lengthAdjust="spacingAndGlyphs">IRF9</text>
</g>
<g>
<path class="g" d="M312.1 699.25H514.25M312.1 715.7H514.25M312.1 732.15H514.25M312.1 748.6H514.25M312.1 765.05H514.25M312.1 781.5H514.25M315.4 699.25V781.5M348.54 748.6V751.8M381.68 748.6V751.8M414.82 748.6V751.8M447.97 748.6V751.8M481.11 748.6V751.8M514.25 748.6V751.8"/>
<rect class="r" x="331.97" y="744.49" width="9.34" height="4.11"/>
<rect class="b" x="355.78" y="746.96" width="9.34" height="1.64"/>
<rect class="r" x="365.11" y="733.79" width="9.34" height="14.81"/>
<rect class="b" x="388.92" y="748.6" width="9.34" height="7.4"/>
<rect class="r" x="398.25" y="730.67" width="9.34" height="17.93"/>
<rect class="b" x="422.06" y="748.6" width="9.34" height="4.44"/>
<rect class="r" x="431.4" y="726.06" width="9.34" height="22.54"/>
<rect class="b" x="455.2" y="748.6" width="9.34" height="13.49"/>
<rect class="r" x="464.54" y="703.36" width="9.34" height="45.24"/>
<rect class="b" x="488.34" y="748.6" width="9.34" height="9.05"/>
<rect class="r" x="497.68" y="714.05" width="9.34" height="34.55"/>
<path class="e" d="M324.15 746.63H330.45M324.15 750.57H330.45M327.3 746.63V750.57M333.49 742.84H339.79M333.49 746.13H339.79M336.64 742.84V746.13M357.29 746.96H363.59M366.63 731.82H372.93M366.63 735.77H372.93M369.78 731.82V735.77M390.44 753.7H396.74M390.44 758.31H396.74M393.59 753.7V758.31M399.77 727.54H406.07M399.77 733.79H406.07M402.92 727.54V733.79M423.58 750.25H429.88M423.58 755.84H429.88M426.73 750.25V755.84M432.91 724.91H439.21M432.91 727.22H439.21M436.06 724.91V727.22M456.72 759.95H463.02M456.72 764.23H463.02M459.87 759.95V764.23M466.06 699.58H472.36M466.06 707.15H472.36M469.21 699.58V707.15M489.86 755.67H496.16M489.86 759.62H496.16M493.01 755.67V759.62M499.2 711.75H505.5M499.2 716.36H505.5M502.35 711.75V716.36"/>
<text class="tk" x="297.7" y="701.89" font-size="9.6" textLength="6.3" lengthAdjust="spacingAndGlyphs">3</text>
<text class="tk" x="297.7" y="718.34" font-size="9.6" textLength="6.3" lengthAdjust="spacingAndGlyphs">2</text>
<text class="tk" x="297.7" y="734.79" font-size="9.6" textLength="6.3" lengthAdjust="spacingAndGlyphs">1</text>
<text class="tk" x="297.7" y="751.24" font-size="9.6" textLength="6.3" lengthAdjust="spacingAndGlyphs">0</text>
<text class="tk" x="293.93" y="767.69" font-size="9.6" textLength="10.07" lengthAdjust="spacingAndGlyphs">-1</text>
<text class="tk" x="293.93" y="784.14" font-size="9.6" textLength="10.07" lengthAdjust="spacingAndGlyphs">-2</text>
<text x="320.96" y="801" font-size="11.8" textLength="22.36" lengthAdjust="spacingAndGlyphs">FG9</text>
<text x="357" y="801" font-size="11.8" textLength="17.47" lengthAdjust="spacingAndGlyphs">WT</text>
<text x="383.85" y="801" font-size="11.8" textLength="28.48" lengthAdjust="spacingAndGlyphs">372K</text>
<text x="417.23" y="801" font-size="11.8" textLength="28.61" lengthAdjust="spacingAndGlyphs">377K</text>
<text x="450.58" y="801" font-size="11.8" textLength="29.38" lengthAdjust="spacingAndGlyphs">419H</text>
<text x="483.7" y="801" font-size="11.8" textLength="29.84" lengthAdjust="spacingAndGlyphs">419G</text>
<text class="yl" transform="translate(284.1 743.68) rotate(-90)" font-size="15.4" textLength="32.31" lengthAdjust="spacingAndGlyphs">JAK2</text>
</g>
<g>
<path class="g" d="M306.8 836H518.75M306.8 866.92H518.75M306.8 897.83H518.75M306.8 928.75H518.75M310.6 836V928.75M345.29 897.83V901.03M379.98 897.83V901.03M414.68 897.83V901.03M449.37 897.83V901.03M484.06 897.83V901.03M518.75 897.83V901.03"/>
<rect class="r" x="327.95" y="895.67" width="9.77" height="2.16"/>
<rect class="b" x="352.87" y="882.38" width="9.77" height="15.46"/>
<rect class="r" x="362.64" y="882.38" width="9.77" height="15.46"/>
<rect class="b" x="387.56" y="897.83" width="9.77" height="6.8"/>
<rect class="r" x="397.33" y="873.1" width="9.77" height="24.73"/>
<rect class="r" x="432.02" y="864.13" width="9.77" height="33.7"/>
<rect class="b" x="456.94" y="897.83" width="9.77" height="9.89"/>
<rect class="r" x="466.71" y="849.6" width="9.77" height="48.23"/>
<rect class="r" x="501.4" y="841.57" width="9.77" height="56.27"/>
<path class="e" d="M319.91 894.12H326.21M319.91 901.54H326.21M323.06 894.12V901.54M329.68 895.05H335.98M329.68 896.29H335.98M332.83 895.05V896.29M354.6 879.59H360.9M354.6 885.16H360.9M357.75 879.59V885.16M364.37 881.14H370.67M364.37 883.61H370.67M367.52 881.14V883.61M389.29 903.09H395.59M389.29 906.18H395.59M392.44 903.09V906.18M399.07 870.63H405.37M399.07 875.57H405.37M402.22 870.63V875.57M423.98 890.17H430.28M423.98 904.39H430.28M427.13 890.17V904.39M433.76 863.52H440.06M433.76 864.75H440.06M436.91 863.52V864.75M458.68 904.63H464.98M458.68 910.82H464.98M461.83 904.63V910.82M468.45 844.35H474.75M468.45 854.86H474.75M471.6 844.35V854.86M493.37 897.99H499.67M503.14 840.02H509.44M503.14 843.11H509.44M506.29 840.02V843.11"/>
<text class="tk" x="292.9" y="839.04" font-size="9.9" textLength="6.5" lengthAdjust="spacingAndGlyphs">2</text>
<text class="tk" x="292.9" y="869.96" font-size="9.9" textLength="6.5" lengthAdjust="spacingAndGlyphs">1</text>
<text class="tk" x="292.9" y="900.88" font-size="9.9" textLength="6.5" lengthAdjust="spacingAndGlyphs">0</text>
<text class="tk" x="289.01" y="931.79" font-size="9.9" textLength="10.39" lengthAdjust="spacingAndGlyphs">-1</text>
<text x="317.61" y="948.2" font-size="11.8" textLength="22.24" lengthAdjust="spacingAndGlyphs">FG9</text>
<text x="353.76" y="948.2" font-size="11.8" textLength="16.87" lengthAdjust="spacingAndGlyphs">WT</text>
<text x="382.22" y="948.2" font-size="11.8" textLength="29.28" lengthAdjust="spacingAndGlyphs">372K</text>
<text x="417.84" y="948.2" font-size="11.8" textLength="28.07" lengthAdjust="spacingAndGlyphs">377K</text>
<text x="451.37" y="948.2" font-size="11.8" textLength="29.14" lengthAdjust="spacingAndGlyphs">419H</text>
<text x="486.37" y="948.2" font-size="11.8" textLength="29.09" lengthAdjust="spacingAndGlyphs">419G</text>
<text class="yl" transform="translate(284.1 880.64) rotate(-90)" font-size="15.4" textLength="35.64" lengthAdjust="spacingAndGlyphs">CDK2</text>
</g>
</svg>
</body>
</html>
